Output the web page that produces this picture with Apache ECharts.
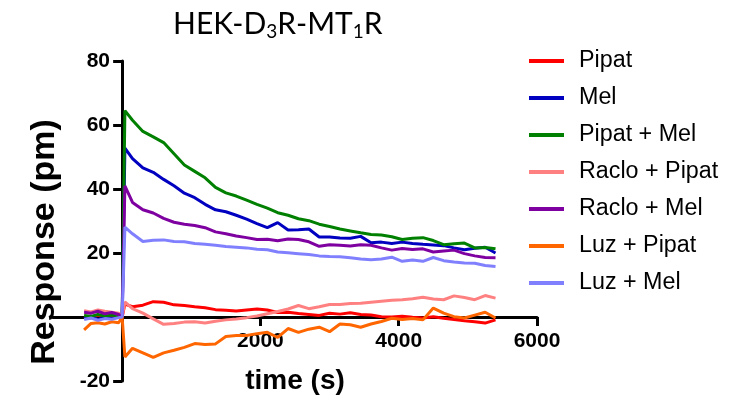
<!DOCTYPE html>
<html>
<head>
<meta charset="utf-8">
<script src="https://cdn.jsdelivr.net/npm/echarts@6/dist/echarts.min.js"></script>
<style>
  html, body { margin: 0; padding: 0; background: #fff; }
  #chart { width: 733px; height: 400px; }
</style>
</head>
<body>
<div id="chart"></div>
<script>
// time points (s)
var times = [-550, -450, -350, -250, -150, -50, 0, 40, 150, 300, 450, 600, 750, 900, 1050, 1200,
  1350, 1500, 1650, 1800, 1950, 2100, 2250, 2400, 2550, 2700, 2850, 3000, 3150, 3300, 3450,
  3600, 3750, 3900, 4050, 4200, 4350, 4500, 4650, 4800, 4950, 5100, 5250, 5400];

var names = ['Pipat', 'Mel', 'Pipat + Mel', 'Raclo + Pipat', 'Raclo + Mel', 'Luz + Pipat', 'Luz + Mel'];
var colors = ['#ff0000', '#0000c0', '#008000', '#ff8080', '#7f00a0', '#ff6600', '#8080ff'];

var pipat = [0.3, -0.3, 0.5, 0, 0.4, -0.2, 0, 4, 3.2, 3.7, 4.8, 4.6, 3.8, 3.6, 3.2, 2.9,
  2.3, 2.1, 1.9, 2.2, 2.5, 2.2, 1.4, 1.5, 1.1, 0.8, 0.5, 1.2, 0.9, 1.3, 0.8,
  0.6, 0.1, 0, 0.2, -0.1, -0.3, 0.1, -0.4, -0.8, -1.2, -1.5, -1.9, -0.9];
var mel = [-0.5, 0.3, -0.8, 0, -0.5, 0.2, 0, 52.8, 49.5, 46.6, 45.2, 43, 41, 38.7, 37.3, 35.2,
  33.5, 32.9, 31.8, 30.6, 29.2, 27.9, 29.5, 27.2, 27.3, 27.5, 25, 25, 24.7, 24.6, 25.2,
  23.2, 23.4, 23, 23.4, 23, 22.7, 22.5, 22.3, 21.6, 21, 21.5, 21.8, 20];
var pipatMel = [0.5, 0.2, 0.8, 0.3, 0.6, 0.4, 0, 64.5, 61.5, 58, 56.3, 54.5, 51, 47.5, 45.5, 43.5,
  40.5, 38.8, 37.8, 36.5, 35.2, 34, 32.6, 31.8, 30.7, 30.1, 29, 28.3, 27.5, 26.9, 26.3,
  25.8, 25.6, 25.1, 24.2, 24.6, 24.8, 23.9, 22.6, 22.9, 23.1, 21.6, 21.7, 21.3];
var racloPipat = [2, 1.6, 2.2, 1.8, 1.5, 1.2, 0, 4.7, 2.6, 1.2, -0.6, -2.3, -2, -1.6, -1.5, -1.9,
  -1.3, -0.9, -0.6, -0.2, 0.3, 1, 1.7, 2.5, 3.6, 2.6, 3.2, 3.9, 3.9, 4.2, 4.3,
  4.6, 4.9, 5.2, 5.4, 5.7, 6.2, 5.6, 5.4, 6.6, 6.1, 5.4, 6.7, 5.9];
var racloMel = [1.5, 1.2, 1.8, 1, 1.4, 0.8, 0, 41, 35.8, 33.5, 32.5, 30.8, 29.6, 29, 28.6, 27.9,
  26.6, 26, 25.3, 24.8, 24.2, 24.3, 23.8, 24.4, 24.2, 23.5, 22.1, 22.6, 22.4, 22.2, 22.6,
  22.4, 21.6, 20.9, 21.4, 21.1, 21.3, 20.3, 20.6, 20.9, 19.8, 19.1, 18.6, 18.5];
var luzPipat = [-4, -2, -1.8, -2.2, -1.5, -1.8, 0, -12.5, -9.8, -11.2, -12.6, -11.2, -10.4, -9.5, -8.3, -8.6,
  -8.4, -6.1, -5.8, -5.8, -5.2, -4.8, -6.4, -3.6, -4.8, -3.8, -3.2, -4.6, -2.2, -2.4, -3.2,
  -2.2, -1.4, -0.4, -0.8, -0.5, -0.9, 2.8, 1.2, 0.1, -0.3, 0.6, 1.5, -0.3];
var luzMel = [-0.8, -0.3, -1, -0.5, -0.7, -0.2, 0, 28.1, 26, 23.6, 24, 24.1, 23.6, 23.5, 23, 22.7,
  22.4, 22, 21.8, 21.6, 21.2, 21, 20.3, 20.1, 19.8, 19.5, 19.1, 18.9, 18.8, 18.5, 18.1,
  17.9, 18.1, 18.7, 17.4, 17.8, 17.4, 18.6, 17.6, 17.2, 16.9, 16.8, 16.1, 15.8];

var xLabels = [2000, 4000, 6000];
var allSeries = [pipat, mel, pipatMel, racloPipat, racloMel, luzPipat, luzMel];

function pairs(vals) {
  return times.map(function (t, i) { return [t, vals[i]]; });
}

var chart = echarts.init(document.getElementById('chart'));

var series = allSeries.map(function (vals, i) {
  return {
    name: names[i],
    type: 'line',
    data: pairs(vals),
    showSymbol: false,
    symbol: 'none',
    lineStyle: { color: colors[i], width: 3 },
    itemStyle: { color: colors[i] }
  };
});

var option = {
  animation: false,
  backgroundColor: '#fff',
  title: {
    text: '{a|HEK-D}{s|3}{a|R-MT}{s|1}{a|R}',
    left: 168,
    top: 1,
    textStyle: {
      rich: {
        a: { fontFamily: 'Lato', fontWeight: 'normal', fontSize: 30, color: '#000', lineHeight: 36 },
        s: { fontFamily: 'Lato', fontWeight: 'normal', fontSize: 19, color: '#000', lineHeight: 36, padding: [15, 0, 0, 0] }
      }
    }
  },
  legend: {
    orient: 'vertical',
    left: 524,
    top: 44,
    icon: 'rect',
    itemWidth: 35,
    itemHeight: 4,
    itemGap: 13,
    data: names,
    textStyle: {
      fontFamily: 'Liberation Sans',
      fontSize: 23.3,
      color: '#000',
      lineHeight: 24,
      padding: [0, 0, 0, 10]
    }
  },
  grid: { left: 53, right: 196, top: 61, bottom: 19, outerBoundsMode: 'none' },
  xAxis: {
    type: 'value',
    min: -1000,
    max: 6000,
    splitLine: { show: false },
    axisLine: { onZero: true, lineStyle: { color: '#000', width: 3 } },
    axisTick: { customValues: xLabels, length: 9, lineStyle: { color: '#000', width: 3 } },
    axisLabel: {
      customValues: xLabels,
      margin: -50,
      fontFamily: 'Liberation Sans',
      fontWeight: 'bold',
      fontSize: 21,
      color: '#000',
      formatter: function (v) { return String(v); }
    }
  },
  yAxis: {
    type: 'value',
    min: -20,
    max: 80,
    interval: 20,
    splitLine: { show: false },
    axisLine: { onZero: true, lineStyle: { color: '#000', width: 3 } },
    axisTick: { length: 9, lineStyle: { color: '#000', width: 3 } },
    axisLabel: {
      margin: -57,
      fontFamily: 'Liberation Sans',
      fontWeight: 'bold',
      fontSize: 21,
      color: '#000',
      formatter: function (v) { return v === 0 ? '' : String(v); }
    }
  },
  graphic: [
    {
      type: 'text',
      x: 45,
      y: 242,
      rotation: Math.PI / 2,
      style: {
        text: 'Response (pm)',
        font: 'bold 34px "Liberation Sans"',
        fill: '#000',
        align: 'center',
        verticalAlign: 'middle'
      }
    },
    {
      type: 'text',
      x: 295,
      y: 381,
      style: {
        text: 'time (s)',
        font: 'bold 28px "Liberation Sans"',
        fill: '#000',
        align: 'center',
        verticalAlign: 'middle'
      }
    }
  ],
  series: series
};

chart.setOption(option);
</script>
</body>
</html>
